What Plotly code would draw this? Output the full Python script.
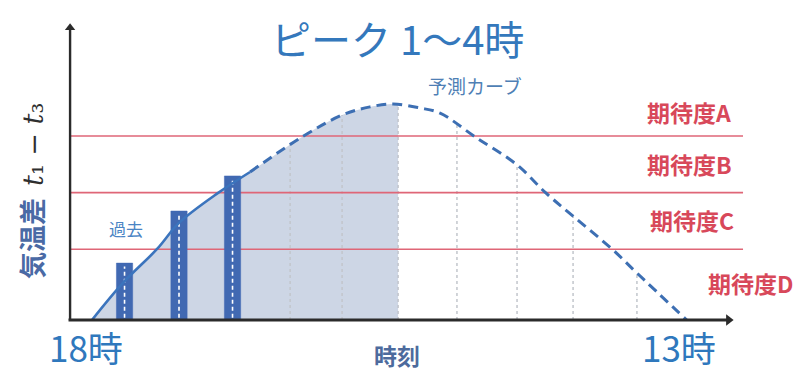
import plotly.graph_objects as go

# Time axis: hours after 18時 (18時 = 0, 13時 = 19). Value axis: temperature difference t1 - t3.
past_hours = [1.04, 2.78, 4.49]
past_diff = [2.01, 3.85, 5.09]
bar_width = 0.52

# Observed part of the curve (solid)
obs_hours = [0.0, 0.99, 2.08, 2.78, 4.03, 5.05]
obs_diff = [0.0, 1.31, 2.51, 3.43, 4.49, 5.23]

# Forecast part of the curve (dashed)
fc_hours = [5.05, 6.71, 7.99, 8.88, 9.62, 10.48, 11.12, 12.24, 13.58, 14.50, 15.37, 16.61, 17.41, 19.0]
fc_diff = [5.23, 6.47, 7.24, 7.53, 7.63, 7.49, 7.31, 6.47, 5.48, 4.49, 3.67, 2.51, 1.66, 0.0]

# Shaded area ends at the peak window boundary
shade_end_hour = 9.78
shade_end_diff = 7.62

# Dotted drop lines from the curve to the time axis
guide_hours = [6.33, 7.99, 9.78, 11.66, 13.58, 15.37, 17.41]
guide_diff = [6.29, 7.24, 7.62, 7.00, 5.48, 3.67, 1.66]

# Expectation thresholds
level_values = [6.5, 4.5, 2.5]
level_names = ["期待度A", "期待度B", "期待度C", "期待度D"]

axis_start_hour = -0.70
axis_end_hour = 20.54
level_end_hour = 20.80
y_top = 10.53

W, H = 800, 373
X_RANGE = [-2.939, 22.620]
Y_RANGE = [-1.873, 11.307]


def paper(px, py):
    return px / W, 1 - py / H


BLUE = "#3b74bd"
BAR = "#4169b2"
RED = "#df6677"
RED_TXT = "#d8485a"
SHADE = "#cdd6e5"
GUIDE = "#c2c6cc"
AXIS = "#2b2b2b"

fig = go.Figure()

# Shaded region under the curve up to the peak window
shade_x = obs_hours[:-1] + [h for h in fc_hours if h <= 9.62] + [shade_end_hour]
shade_y = obs_diff[:-1] + [v for h, v in zip(fc_hours, fc_diff) if h <= 9.62] + [shade_end_diff]
fig.add_trace(go.Scatter(x=shade_x, y=shade_y, mode="lines", fill="tozeroy",
                         fillcolor=SHADE, line=dict(width=0, shape="spline"),
                         hoverinfo="skip"))

# Drop lines
gx, gy = [], []
for h, v in zip(guide_hours, guide_diff):
    gx += [h, h, None]
    gy += [0, v, None]
fig.add_trace(go.Scatter(x=gx, y=gy, mode="lines",
                         line=dict(color=GUIDE, width=1.5, dash="3px,3px"),
                         hoverinfo="skip"))

# Threshold lines
for lv in level_values:
    fig.add_trace(go.Scatter(x=[axis_start_hour, level_end_hour], y=[lv, lv], mode="lines",
                             line=dict(color=RED, width=1.6), hoverinfo="skip"))

# Past observations as filled rectangles (kept in the scatter layer so they sit above the shading)
bx, by = [], []
for h, v in zip(past_hours, past_diff):
    x0, x1 = h - bar_width / 2, h + bar_width / 2
    bx += [x0, x1, x1, x0, x0, None]
    by += [0, 0, v, v, 0, None]
fig.add_trace(go.Scatter(x=bx, y=by, mode="lines", fill="toself", fillcolor=BAR,
                         line=dict(color=BAR, width=0.5), hoverinfo="skip"))

# White dashed stripe down each bar
sx, sy = [], []
for h, v in zip(past_hours, past_diff):
    sx += [h, h, None]
    sy += [0.08, v - 0.12, None]
fig.add_trace(go.Scatter(x=sx, y=sy, mode="lines",
                         line=dict(color="white", width=1.6, dash="4px,3px"), hoverinfo="skip"))

# Curve
fig.add_trace(go.Scatter(x=obs_hours, y=obs_diff, mode="lines",
                         line=dict(color=BLUE, width=2.6, shape="spline"), hoverinfo="skip"))
fig.add_trace(go.Scatter(x=fc_hours, y=fc_diff, mode="lines",
                         line=dict(color="#3d6fb3", width=3, shape="spline", dash="10px,6px"),
                         hoverinfo="skip"))

# Axes with arrow tips
fig.add_trace(go.Scatter(x=[axis_start_hour, axis_start_hour], y=[0, y_top - 0.25], mode="lines",
                         line=dict(color=AXIS, width=2.4), hoverinfo="skip"))
fig.add_trace(go.Scatter(x=[axis_start_hour - 0.05, axis_end_hour - 0.25], y=[0, 0], mode="lines",
                         line=dict(color=AXIS, width=2.8), hoverinfo="skip"))
fig.add_trace(go.Scatter(x=[axis_start_hour], y=[y_top - 0.2], mode="markers",
                         marker=dict(symbol="triangle-up", size=9, color=AXIS), hoverinfo="skip"))
fig.add_trace(go.Scatter(x=[axis_end_hour - 0.2], y=[0], mode="markers",
                         marker=dict(symbol="triangle-right", size=10, color=AXIS), hoverinfo="skip"))

annotations = []


def label(text, px, py, size, color, bold=False, angle=0, yanchor="middle"):
    x, y = paper(px, py)
    t = f"<b>{text}</b>" if bold else text
    annotations.append(dict(x=x, y=y, xref="paper", yref="paper", text=t, showarrow=False,
                            xanchor="center", yanchor=yanchor, textangle=angle, borderpad=0,
                            font=dict(size=size, color=color,
                                      family="Noto Sans CJK JP, Noto Sans, sans-serif")))


label("ピーク 1〜4時", 397, 38, 40, "#3478bc")
label("予測カーブ", 475, 85, 19, "#4f7fb5")
label("過去", 126, 228, 17, "#4a84c4")

label_pos = [(689, 112), (689, 164), (692, 220), (750, 283)]
for name, (px, py) in zip(level_names, label_pos):
    label(name, px, py, 23, RED_TXT, bold=True)

label("18時", 86, 373, 35, "#2f78bd", yanchor="bottom")
label("13時", 679, 373, 35, "#2f78bd", yanchor="bottom")
label("時刻", 397, 373, 23, "#4d6b9d", bold=True, yanchor="bottom")

label("<span style='color:#4a6aa5'><b>気温差</b></span>  "
      "<span style='color:#2f2f2f;font-family:DejaVu Serif'><i>t</i>₁ − <i>t</i>₃</span>",
      31, 191, 27, "#4a6aa5", angle=-90)

fig.update_layout(
    width=W, height=H,
    margin=dict(l=0, r=0, t=0, b=0),
    paper_bgcolor="white", plot_bgcolor="white",
    showlegend=False,
    xaxis=dict(range=X_RANGE, visible=False, fixedrange=True),
    yaxis=dict(range=Y_RANGE, visible=False, fixedrange=True),
    annotations=annotations,
)

fig.write_html("out.html")
